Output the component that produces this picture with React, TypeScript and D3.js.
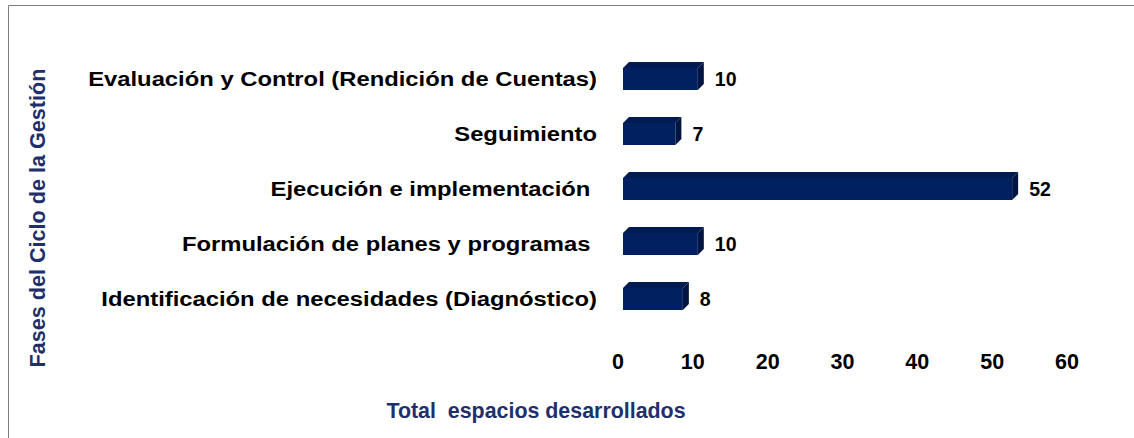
import React from "react";
import * as d3 from "d3";

const categories = [
  "Evaluación y Control (Rendición de Cuentas)",
  "Seguimiento",
  "Ejecución e implementación ",
  "Formulación de planes y programas ",
  "Identificación de necesidades (Diagnóstico)",
];
const values = [10, 7, 52, 10, 8];
const ticks = [0, 10, 20, 30, 40, 50, 60];

export default function App() {
  const W = 1134, H = 438;
  const x = d3.scaleLinear().domain([0, 60]).range([618, 1067]);
  const y = d3.scaleBand().domain(categories).range([51.5, 326.5]).paddingInner(0.6).paddingOuter(0.3);
  const shift = 5;
  const depth = 6;
  const font = "Liberation Sans, Arial, sans-serif";
  return (
    <svg width={W} height={H} style={{ position: "absolute", left: 0, top: 0 }}>
      <rect x={0} y={0} width={W} height={H} fill="#fff" />
      <path d="M8.5,438 L8.5,5.5 L1134,5.5" fill="none" stroke="#7f7f7f" strokeWidth={1} />
      {categories.map((c, i) => {
        const x0 = x(0) + shift;
        const x1 = x(values[i]) + shift;
        const yc = y(c)! + y.bandwidth() / 2;
        const h = 22;
        const top = yc - h / 2;
        return (
          <g key={c}>
            <polygon
              points={`${x0},${top} ${x0 + depth},${top - depth} ${x1 + depth},${top - depth} ${x1},${top}`}
              fill="#001a52"
            />
            <polygon
              points={`${x1},${top} ${x1 + depth},${top - depth} ${x1 + depth},${top + h - depth} ${x1},${top + h}`}
              fill="#00153f"
            />
            <rect x={x0} y={top} width={x1 - x0} height={h} fill="#00205f" />
            <text
              x={x1 + depth + 11}
              y={yc}
              dy="0.36em"
              fontFamily={font}
              fontWeight="bold"
              fontSize={19.5}
              fill="#000"
            >
              {values[i]}
            </text>
            <text
              transform={`translate(597,${yc}) scale(1.19,1)`}
              dy="0.36em"
              textAnchor="end"
              fontFamily={font}
              fontWeight="bold"
              fontSize={20}
              fill="#000"
              style={{ whiteSpace: "pre" }}
            >
              {c}
            </text>
          </g>
        );
      })}
      {ticks.map((t) => (
        <text
          key={t}
          x={x(t)}
          y={361}
          dy="0.36em"
          textAnchor="middle"
          fontFamily={font}
          fontWeight="bold"
          fontSize={21.5}
          fill="#000"
        >
          {t}
        </text>
      ))}
      <text
        x={536}
        y={410}
        dy="0.36em"
        textAnchor="middle"
        fontFamily={font}
        fontWeight="bold"
        fontSize={21.4}
        fill="#1f2f6b"
        style={{ whiteSpace: "pre" }}
      >
        {"Total  espacios desarrollados"}
      </text>
      <text
        transform={`translate(37,218) rotate(-90)`}
        dy="0.36em"
        textAnchor="middle"
        fontFamily={font}
        fontWeight="bold"
        fontSize={21.6}
        fill="#1f2f6b"
      >
        Fases del Ciclo de la Gestión
      </text>
    </svg>
  );
}
